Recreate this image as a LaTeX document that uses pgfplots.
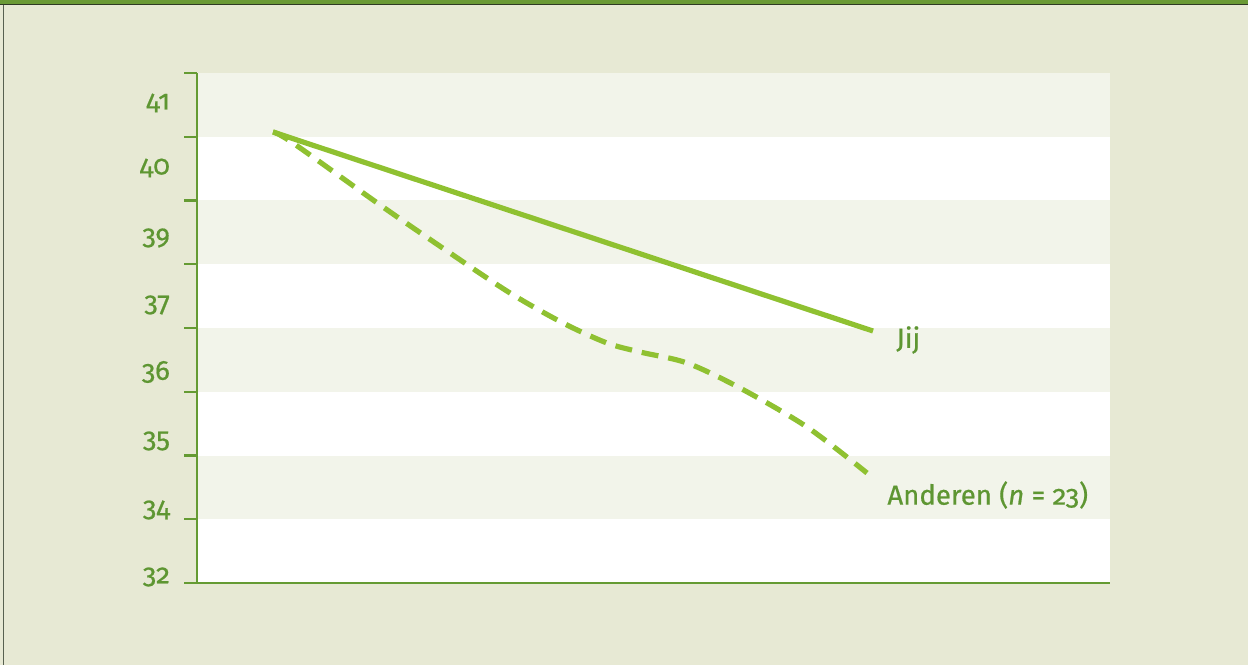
\documentclass[border=0pt]{standalone}
\usepackage{pgfplots}
\pgfplotsset{compat=1.18}
\usepackage{fontspec}
\setmainfont[Numbers=OldStyle, FakeBold=0.6, AutoFakeBold=0.6]{Fira Sans}
\newfontfamily\lab[Numbers=OldStyle, FakeBold=0.6]{Fira Sans}
\definecolor{bg}{HTML}{E7E9D4}
\definecolor{band}{HTML}{F2F4EA}
\definecolor{axgreen}{HTML}{659B33}
\definecolor{txtgreen}{HTML}{5E9632}
\definecolor{lngreen}{HTML}{8FC131}
\definecolor{topgreen}{HTML}{6A9A35}
\definecolor{darkline}{HTML}{2F3A24}
\begin{document}
\begin{tikzpicture}[x=0.5pt,y=0.5pt]
\useasboundingbox (0,0) rectangle (1248,665);
\fill[bg] (0,0) rectangle (1248,665);
\fill[topgreen] (0,660.8) rectangle (1248,665);
\fill[darkline] (0,659.8) rectangle (1248,660.8);
\fill[darkline!80] (2.8,0) rectangle (4.2,659.8);
\begin{axis}[
  at={(98.5pt,41pt)}, anchor=south west,
  scale only axis, width=456.5pt, height=255pt,
  xmin=197, xmax=1110, ymin=0, ymax=510,
  axis lines*=left,
  axis line style={draw=axgreen, line width=1.1pt},
  xtick=\empty,
  ytick={0,63.75,127.5,191.25,255,318.75,382.5,446.25,510},
  yticklabels={},
  every tick/.append style={draw=axgreen, line width=1.1pt},
  major tick style={draw=axgreen, line width=1.1pt},
  ytick style={draw=axgreen, line width=1.1pt},
  major tick length=6.5pt,
  tick align=outside,
  extra y ticks={6,73,142,211,278,345,415,480},
  extra y tick labels={32,34,35,36,37,39,40,41},
  extra y tick style={major tick length=0pt, ytick style={draw=none}},
  y tick label style={font=\lab\fontsize{13.8}{16}\selectfont, text=txtgreen, anchor=east, xshift=-10pt},
  clip=false,
  axis on top=true,
]
\fill[band] (axis cs:197,446.25) rectangle (axis cs:1110,510);
\fill[white] (axis cs:197,382.5) rectangle (axis cs:1110,446.25);
\fill[band] (axis cs:197,318.75) rectangle (axis cs:1110,382.5);
\fill[white] (axis cs:197,255) rectangle (axis cs:1110,318.75);
\fill[band] (axis cs:197,191.25) rectangle (axis cs:1110,255);
\fill[white] (axis cs:197,127.5) rectangle (axis cs:1110,191.25);
\fill[band] (axis cs:197,63.75) rectangle (axis cs:1110,127.5);
\fill[white] (axis cs:197,0) rectangle (axis cs:1110,63.75);
\addplot[lngreen, line width=2.6pt] coordinates {(273,451) (873,252)};
\addplot[lngreen, line width=2.6pt, dash pattern=on 8.5pt off 5pt, smooth, tension=0.5] coordinates {
(273,451) (293,440) (383,376) (450,330) (510,290) (563,260) (607,240) (640,231) (687,220) (740,195) (807,156) (867,110)};
\node[anchor=west, text=txtgreen, font=\lab\fontsize{13.8}{16}\selectfont, inner sep=0pt] at (axis cs:896,243) {Jij};
\node[anchor=west, text=txtgreen, font=\lab\fontsize{13.8}{16}\selectfont, inner sep=0pt] at (axis cs:887,88) {Anderen (\textit{n} = 23)};
\end{axis}
\end{tikzpicture}
\end{document}
